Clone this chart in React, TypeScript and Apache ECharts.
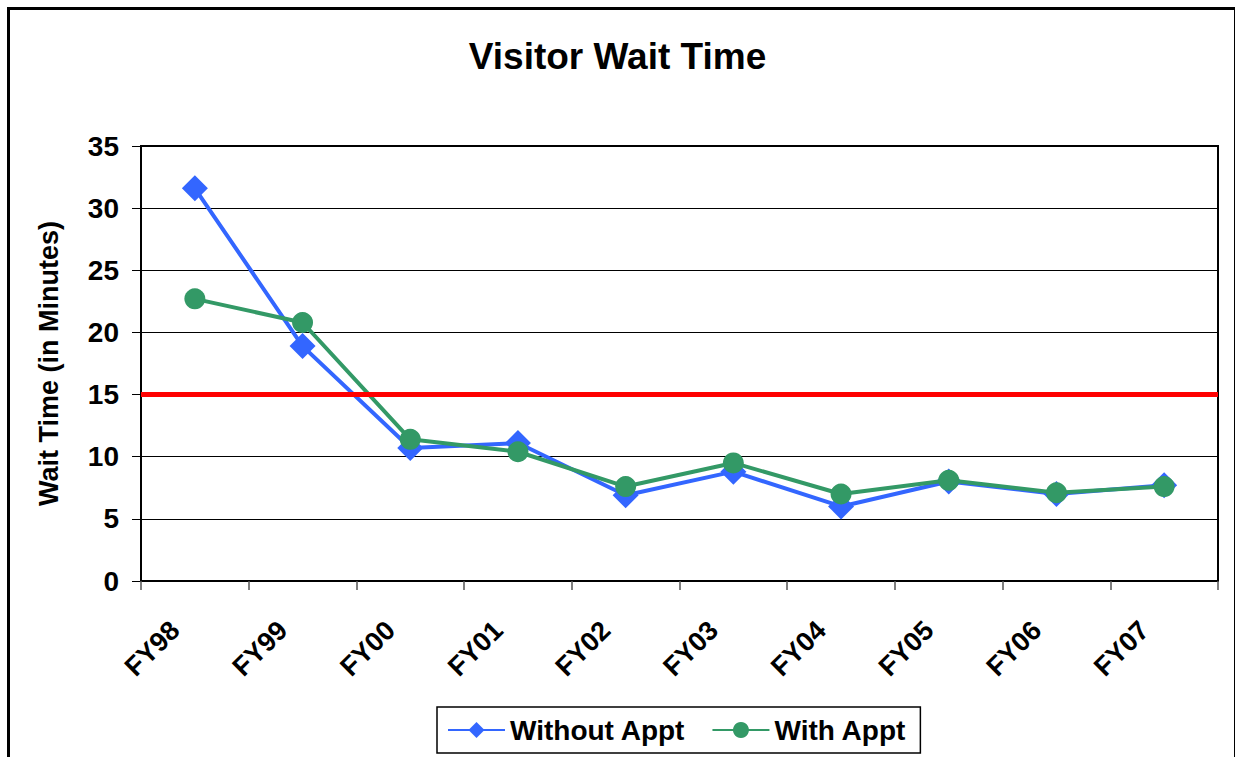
import React, { useEffect, useRef } from "react";
import * as echarts from "echarts";

const categories = ["FY98", "FY99", "FY00", "FY01", "FY02", "FY03", "FY04", "FY05", "FY06", "FY07"];
const withoutAppt = [31.6, 18.9, 10.7, 11.1, 6.9, 8.8, 6.0, 8.0, 7.0, 7.7];
const withAppt = [22.7, 20.8, 11.4, 10.4, 7.6, 9.5, 7.0, 8.1, 7.1, 7.6];
const targetLine = 15;
const yTicks = { min: 0, max: 35, interval: 5 };

const FONT = "'Liberation Sans', Arial, sans-serif";

export default function App() {
  const ref = useRef<HTMLDivElement>(null);
  useEffect(() => {
    if (!ref.current) return;
    const chart = echarts.init(ref.current, undefined, { renderer: "svg" });
    chart.setOption({
      animation: false,
      backgroundColor: "#ffffff",
      textStyle: { fontFamily: FONT },
      title: {
        text: "Visitor Wait Time",
        left: "center",
        top: 33,
        textStyle: { fontFamily: FONT, fontSize: 37, fontWeight: "bold", color: "#000" },
      },
      graphic: [
        {
          type: "rect",
          left: 6,
          top: 6,
          shape: { width: 1227, height: 780 },
          style: { fill: "none", stroke: "#000", lineWidth: 3 },
          silent: true,
        },
      ],
      legend: {
        left: 437,
        top: 707,
        padding: [9, 14, 9, 10],
        itemGap: 26,
        itemWidth: 57,
        itemHeight: 20,
        borderColor: "#000",
        borderWidth: 1.5,
        textStyle: { fontFamily: FONT, fontSize: 28, fontWeight: "bold", color: "#000" },
        data: ["Without Appt", "With Appt"],
      },
      grid: {
        left: 141,
        right: 17,
        top: 146,
        bottom: 176,
        show: true,
        borderColor: "#000",
        borderWidth: 2,
      },
      xAxis: {
        type: "category",
        data: categories,
        boundaryGap: true,
        axisLine: { lineStyle: { color: "#000", width: 2 } },
        axisTick: { show: true, length: 9, alignWithLabel: false, lineStyle: { color: "#555", width: 1.5 } },
        axisLabel: {
          rotate: 45,
          margin: 25,
          padding: [0, 28, 0, 0],
          fontFamily: FONT,
          fontSize: 27,
          fontWeight: "bold",
          color: "#000",
        },
      },
      yAxis: {
        type: "value",
        min: yTicks.min,
        max: yTicks.max,
        interval: yTicks.interval,
        name: "Wait Time (in Minutes)",
        nameLocation: "middle",
        nameGap: 79,
        nameTextStyle: { fontFamily: FONT, fontSize: 27, fontWeight: "bold", color: "#000" },
        axisLine: { show: true, lineStyle: { color: "#000", width: 2 } },
        axisTick: { show: true, length: 9, lineStyle: { color: "#000", width: 1 } },
        axisLabel: { fontFamily: FONT, fontSize: 28, fontWeight: "bold", color: "#000", margin: 22 },
        splitLine: { show: true, lineStyle: { color: "#000", width: 1 } },
      },
      series: [
        {
          name: "Without Appt",
          type: "line",
          data: withoutAppt,
          symbol: "diamond",
          symbolSize: 26,
          itemStyle: { color: "#3366FF" },
          lineStyle: { color: "#3366FF", width: 4 },
          z: 3,
          markLine: {
            silent: true,
            symbol: "none",
            label: { show: false },
            lineStyle: { color: "#FF0000", width: 5, type: "solid" },
            data: [{ yAxis: targetLine }],
          },
        },
        {
          name: "With Appt",
          type: "line",
          data: withAppt,
          symbol: "circle",
          symbolSize: 21,
          itemStyle: { color: "#339966" },
          lineStyle: { color: "#339966", width: 4 },
          z: 4,
        },
      ],
    });
    return () => chart.dispose();
  }, []);
  return (
    <div
      ref={ref}
      style={{ position: "fixed", left: 0, top: 0, width: 1235, height: 757, background: "#fff" }}
    />
  );
}
